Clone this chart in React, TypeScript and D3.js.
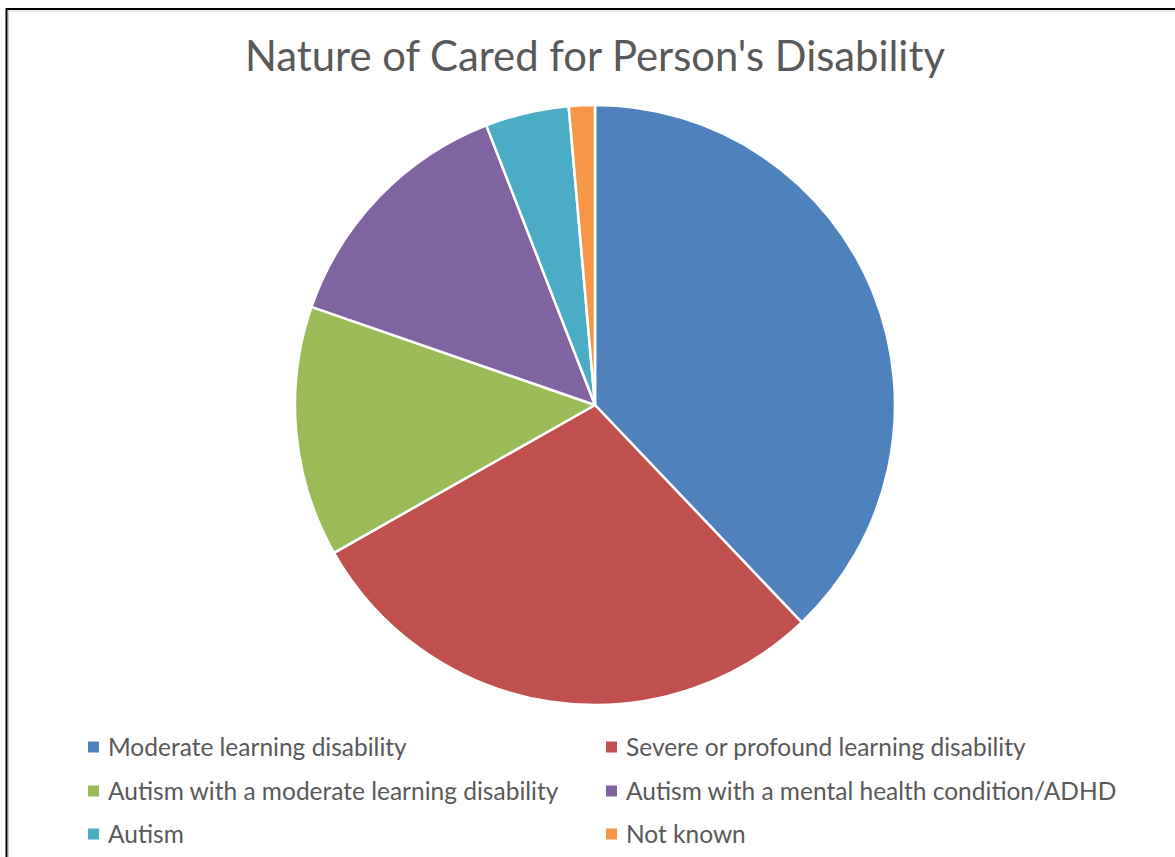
import React from "react";
import * as d3 from "d3";

const categories = [
  "Moderate learning disability",
  "Severe or profound learning disability",
  "Autism with a moderate learning disability",
  "Autism with a mental health condition/ADHD",
  "Autism",
  "Not known",
];
const values = [37.9, 28.9, 13.5, 13.8, 4.5, 1.4];
const colors = ["#4F81BD", "#C0504D", "#9BBB59", "#8064A2", "#4BACC6", "#F79646"];
const title = "Nature of Cared for Person's Disability";

export default function App() {
  const W = 1175;
  const H = 857;
  const cx = 595;
  const cy = 405;
  const r = 300;
  const pie = d3.pie<number>().sort(null).value((d) => d);
  const arcs = pie(values);
  const arcGen = d3.arc<d3.PieArcDatum<number>>().innerRadius(0).outerRadius(r);
  const font = "Lato, 'Open Sans', sans-serif";
  const legendCols = [88, 606];
  const legendRows = [747, 791, 834];
  return (
    <svg
      width={W}
      height={H}
      style={{ position: "absolute", left: 0, top: 0, background: "#fff" }}
    >
      <rect x={0} y={0} width={W} height={H} fill="#fff" />
      <line x1={6} y1={9} x2={W} y2={9} stroke="#000" strokeWidth={2} />
      <line x1={8} y1={11} x2={W} y2={11} stroke="#d0d0d0" strokeWidth={1} />
      <line x1={6.5} y1={8} x2={6.5} y2={H} stroke="#000" strokeWidth={2} />
      <line x1={8.5} y1={11} x2={8.5} y2={H} stroke="#d0d0d0" strokeWidth={1} />
      <text
        x={595}
        y={71}
        textAnchor="middle"
        fontFamily={font}
        fontSize={41.8}
        fill="#595959"
      >
        {title}
      </text>
      <g transform={`translate(${cx},${cy})`}>
        {arcs.map((a, i) => (
          <path key={i} d={arcGen(a) || ""} fill={colors[i]} stroke="#fff" strokeWidth={2.5} strokeLinejoin="round" />
        ))}
      </g>
      {categories.map((c, i) => {
        const col = i % 2;
        const row = Math.floor(i / 2);
        const x = legendCols[col];
        const y = legendRows[row];
        return (
          <g key={c}>
            <rect x={x} y={y - 5.5} width={11} height={11} fill={colors[i]} />
            <text
              x={x + 20}
              y={y}
              dy="0.35em"
              fontFamily={font}
              fontSize={24.5}
              fill="#595959"
            >
              {c}
            </text>
          </g>
        );
      })}
    </svg>
  );
}
